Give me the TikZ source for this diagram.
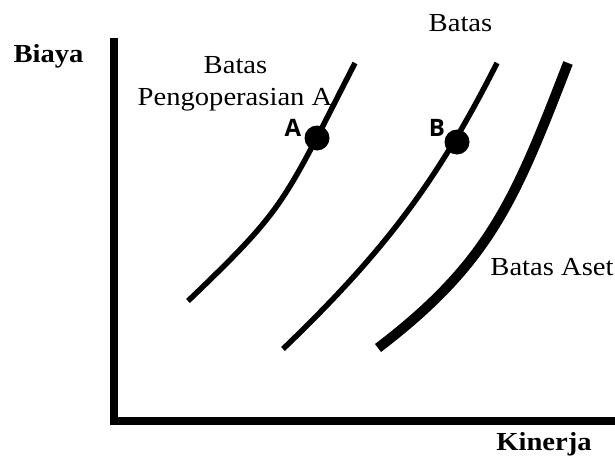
\documentclass[tikz,border=0pt]{standalone}
\usepackage{fontspec}
\setmainfont[FakeStretch=1.1]{Liberation Serif}
\newfontfamily\labfont{Open Sans}
\begin{document}
\begin{tikzpicture}[x=1pt,y=-1pt,
  lbl/.style={font=\fontsize{26}{30}\selectfont, inner sep=0pt, anchor=base},
  axlbl/.style={font=\fontsize{26}{30}\selectfont\bfseries, inner sep=0pt, anchor=base},
  pt/.style={font=\labfont\fontsize{24}{28}\selectfont\bfseries, inner sep=0pt},
  dot/.style={circle, fill=black, minimum size=25pt, inner sep=0pt},
  curve/.style={line width=5.5pt, line cap=butt},
  bigcurve/.style={line width=10pt, line cap=butt}]
\useasboundingbox (0,0) rectangle (615,460);
% axes
\coordinate (ytop) at (114,38);
\coordinate (orig) at (114,421);
\coordinate (xend) at (615,421);
\draw[line width=8.5pt, line cap=butt, line join=miter] (ytop) -- (orig) -- (xend);
% curves
\draw[curve] (188,301) .. controls (286.4,206.5) and (281.9,205.5) .. (355,63);
\draw[curve] (283,349) .. controls (387.2,248.7) and (438.1,179.4) .. (497,63);
\draw[bigcurve] (378,348) .. controls (489.9,262.6) and (514.8,200.4) .. (568,63);
% dots
\node[dot] (dA) at (317,138) {};
\node[dot] (dB) at (457,142) {};
\node[pt] (lA) at (293,128) {A};
\node[pt] (lB) at (437,128) {B};
% labels
\node[axlbl] (biaya) at (48.5,63) {Biaya};
\node[axlbl] (kinerja) at (544,450) {Kinerja};
\node[lbl] (batasTop) at (460.5,32) {Batas};
\node[lbl] (batasL1) at (235.5,73) {Batas};
\node[lbl] (batasL2) at (235,105) {Pengoperasian A};
\node[lbl] (aset) at (552,275) {Batas Aset};
\end{tikzpicture}
\end{document}
